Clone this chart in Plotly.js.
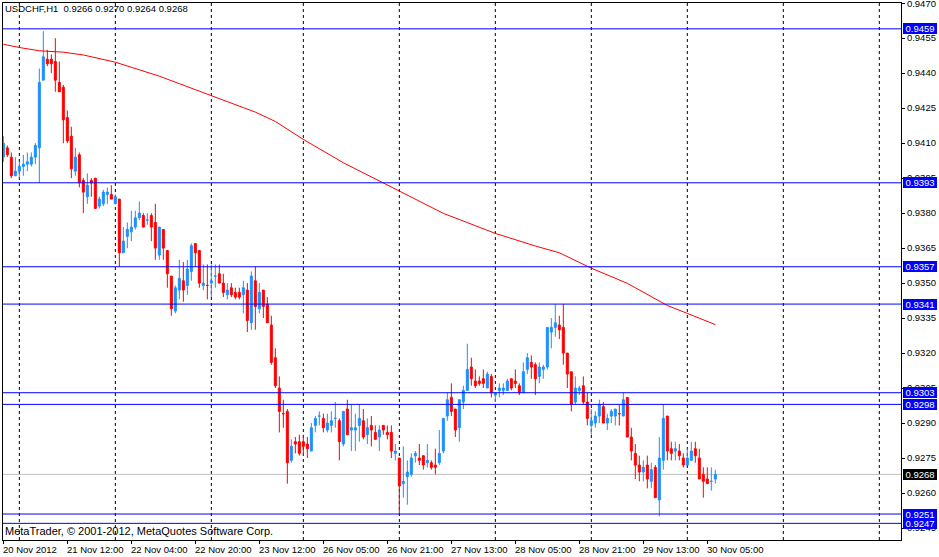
<!DOCTYPE html>
<html><head><meta charset="utf-8">
<script src="https://cdn.plot.ly/plotly-3.0.1.min.js"></script>
<style>html,body{margin:0;padding:0;background:#fff;} #chart{width:939px;height:557px;}</style>
</head><body><div id="chart"></div>
<script>
const symbol = 'USDCHF';
const period = 'H1';
// trading sessions: day, first hour, last hour (one bar per hour)
const sessions = [['20 Nov',20,23],['21 Nov',0,23],['22 Nov',0,23],['23 Nov',0,22],['26 Nov',0,23],['27 Nov',0,23],['28 Nov',0,23],['29 Nov',0,23],['30 Nov',0,7]];

const openP = [0.9404,0.9408,0.9404,0.9396,0.9398,0.9400,0.9401,0.9401,0.9404,0.9408,
0.9437,0.9446,0.9446,0.9445,0.9436,0.9434,0.9421,0.9413,0.9398,0.9405,
0.9394,0.9387,0.9394,0.9395,0.9383,0.9384,0.9388,0.9388,0.9384,0.9386,
0.9363,0.9370,0.9372,0.9374,0.9378,0.9379,0.9377,0.9379,0.9376,0.9362,
0.9373,0.9364,0.9353,0.9338,0.9347,0.9351,0.9349,0.9355,0.9367,0.9364,
0.9349,0.9349,0.9350,0.9353,0.9354,0.9350,0.9345,0.9348,0.9346,0.9346,
0.9345,0.9347,0.9333,0.9351,0.9339,0.9347,0.9341,0.9332,0.9318,0.9305,
0.9294,0.9295,0.9274,0.9282,0.9282,0.9282,0.9281,0.9278,0.9289,0.9293,
0.9292,0.9287,0.9289,0.9292,0.9291,0.9281,0.9296,0.9287,0.9287,0.9289,
0.9291,0.9285,0.9289,0.9286,0.9284,0.9289,0.9286,0.9286,0.9277,0.9275,
0.9264,0.9267,0.9268,0.9276,0.9275,0.9276,0.9273,0.9273,0.9272,0.9273,
0.9278,0.9293,0.9301,0.9296,0.9288,0.9299,0.9304,0.9314,0.9308,0.9308,
0.9309,0.9305,0.9310,0.9302,0.9304,0.9304,0.9304,0.9309,0.9308,0.9306,
0.9303,0.9313,0.9316,0.9315,0.9310,0.9313,0.9314,0.9329,0.9331,0.9332,
0.9331,0.9320,0.9312,0.9299,0.9304,0.9306,0.9299,0.9289,0.9290,0.9293,
0.9297,0.9290,0.9293,0.9293,0.9294,0.9293,0.9301,0.9284,0.9277,0.9272,
0.9269,0.9272,0.9265,0.9271,0.9257,0.9274,0.9293,0.9279,0.9278,0.9278,
0.9275,0.9272,0.9274,0.9279,0.9275,0.9268,0.9266,0.9265,0.9266];

const highP = [0.9413,0.9409,0.9406,0.9404,0.9402,0.9405,0.9406,0.9406,0.9410,0.9442,
0.9458,0.9450,0.9448,0.9455,0.9445,0.9435,0.9424,0.9417,0.9408,0.9406,
0.9395,0.9397,0.9395,0.9395,0.9387,0.9390,0.9391,0.9392,0.9388,0.9386,
0.9374,0.9376,0.9381,0.9381,0.9385,0.9380,0.9380,0.9380,0.9384,0.9374,
0.9373,0.9364,0.9353,0.9349,0.9360,0.9359,0.9360,0.9367,0.9367,0.9364,
0.9358,0.9358,0.9358,0.9358,0.9358,0.9354,0.9350,0.9350,0.9348,0.9348,
0.9351,0.9350,0.9355,0.9357,0.9350,0.9347,0.9344,0.9336,0.9322,0.9310,
0.9300,0.9296,0.9283,0.9284,0.9285,0.9285,0.9284,0.9290,0.9293,0.9295,
0.9294,0.9294,0.9295,0.9299,0.9292,0.9295,0.9300,0.9298,0.9294,0.9298,
0.9296,0.9292,0.9293,0.9289,0.9289,0.9289,0.9289,0.9289,0.9281,0.9275,
0.9280,0.9274,0.9277,0.9278,0.9281,0.9276,0.9281,0.9274,0.9279,0.9287,
0.9292,0.9303,0.9307,0.9296,0.9300,0.9306,0.9324,0.9318,0.9313,0.9310,
0.9313,0.9312,0.9311,0.9303,0.9307,0.9307,0.9309,0.9309,0.9313,0.9307,
0.9316,0.9320,0.9319,0.9316,0.9316,0.9315,0.9331,0.9335,0.9341,0.9336,
0.9341,0.9320,0.9312,0.9310,0.9306,0.9310,0.9303,0.9296,0.9295,0.9300,
0.9299,0.9294,0.9296,0.9296,0.9298,0.9303,0.9301,0.9288,0.9281,0.9276,
0.9274,0.9276,0.9273,0.9272,0.9284,0.9298,0.9293,0.9282,0.9282,0.9281,
0.9277,0.9279,0.9282,0.9282,0.9279,0.9271,0.9271,0.9271,0.9270];

const lowP = [0.9402,0.9404,0.9395,0.9396,0.9395,0.9396,0.9398,0.9400,0.9401,0.9393,
0.9437,0.9443,0.9440,0.9432,0.9432,0.9410,0.9410,0.9395,0.9396,0.9391,
0.9380,0.9384,0.9387,0.9382,0.9382,0.9383,0.9384,0.9386,0.9384,0.9357,
0.9363,0.9365,0.9368,0.9373,0.9377,0.9374,0.9375,0.9368,0.9360,0.9360,
0.9360,0.9348,0.9336,0.9337,0.9343,0.9342,0.9345,0.9351,0.9357,0.9348,
0.9347,0.9343,0.9344,0.9348,0.9350,0.9344,0.9343,0.9344,0.9343,0.9343,
0.9337,0.9329,0.9330,0.9330,0.9337,0.9335,0.9333,0.9315,0.9305,0.9286,
0.9288,0.9264,0.9273,0.9277,0.9276,0.9276,0.9275,0.9278,0.9286,0.9289,
0.9286,0.9286,0.9286,0.9288,0.9274,0.9280,0.9285,0.9278,0.9278,0.9282,
0.9283,0.9281,0.9280,0.9283,0.9278,0.9285,0.9283,0.9275,0.9274,0.9251,
0.9258,0.9255,0.9267,0.9273,0.9272,0.9270,0.9271,0.9270,0.9268,0.9272,
0.9277,0.9291,0.9293,0.9284,0.9282,0.9296,0.9304,0.9306,0.9305,0.9306,
0.9305,0.9305,0.9301,0.9299,0.9301,0.9302,0.9304,0.9304,0.9305,0.9302,
0.9303,0.9311,0.9309,0.9302,0.9307,0.9309,0.9313,0.9322,0.9327,0.9326,
0.9315,0.9305,0.9295,0.9298,0.9302,0.9298,0.9289,0.9285,0.9288,0.9290,
0.9290,0.9287,0.9290,0.9289,0.9289,0.9293,0.9284,0.9274,0.9266,0.9265,
0.9265,0.9262,0.9262,0.9258,0.9250,0.9270,0.9274,0.9274,0.9274,0.9274,
0.9271,0.9272,0.9274,0.9273,0.9266,0.9258,0.9264,0.9261,0.9264];

const closeP = [0.9410,0.9405,0.9396,0.9398,0.9400,0.9401,0.9402,0.9404,0.9409,0.9436,
0.9447,0.9444,0.9444,0.9437,0.9432,0.9420,0.9411,0.9399,0.9404,0.9393,
0.9389,0.9392,0.9393,0.9382,0.9386,0.9389,0.9389,0.9386,0.9387,0.9363,
0.9368,0.9373,0.9374,0.9378,0.9380,0.9374,0.9377,0.9374,0.9365,0.9374,
0.9365,0.9354,0.9339,0.9348,0.9352,0.9347,0.9356,0.9366,0.9363,0.9350,
0.9350,0.9349,0.9351,0.9353,0.9350,0.9346,0.9347,0.9345,0.9344,0.9344,
0.9348,0.9334,0.9353,0.9340,0.9346,0.9340,0.9333,0.9316,0.9306,0.9295,
0.9294,0.9273,0.9280,0.9281,0.9277,0.9280,0.9279,0.9288,0.9292,0.9293,
0.9288,0.9290,0.9291,0.9292,0.9282,0.9295,0.9285,0.9288,0.9288,0.9292,
0.9284,0.9288,0.9287,0.9283,0.9287,0.9287,0.9285,0.9278,0.9278,0.9263,
0.9265,0.9269,0.9275,0.9277,0.9274,0.9272,0.9274,0.9271,0.9271,0.9277,
0.9292,0.9300,0.9295,0.9287,0.9300,0.9304,0.9313,0.9309,0.9306,0.9307,
0.9307,0.9311,0.9303,0.9303,0.9305,0.9305,0.9308,0.9305,0.9307,0.9303,
0.9312,0.9318,0.9314,0.9309,0.9314,0.9314,0.9331,0.9331,0.9333,0.9330,
0.9320,0.9311,0.9298,0.9305,0.9305,0.9299,0.9292,0.9291,0.9293,0.9298,
0.9290,0.9292,0.9295,0.9296,0.9294,0.9300,0.9284,0.9278,0.9272,0.9269,
0.9271,0.9266,0.9270,0.9258,0.9275,0.9292,0.9278,0.9277,0.9279,0.9276,
0.9272,0.9275,0.9278,0.9276,0.9266,0.9265,0.9264,0.9265,0.9268];

// moving average read at selected bars
const maTimes = ['20 Nov 20:00','21 Nov 00:00','21 Nov 05:00','21 Nov 11:00','21 Nov 16:00','21 Nov 20:00',
'22 Nov 00:00','22 Nov 11:00','23 Nov 00:00','23 Nov 11:00','23 Nov 16:00','26 Nov 00:00','26 Nov 10:00',
'26 Nov 20:00','27 Nov 00:00','27 Nov 11:00','28 Nov 00:00','28 Nov 10:00','28 Nov 16:00','29 Nov 00:00',
'29 Nov 09:00','29 Nov 19:00','30 Nov 00:00','30 Nov 07:00'];
const maValues = [0.94524,0.94510,0.94496,0.94490,0.94478,0.94461,0.94447,0.94387,0.94304,0.94233,0.94193,
0.94116,0.94016,0.93930,0.93896,0.93799,0.93713,0.93659,0.93630,0.93564,0.93499,0.93404,0.93370,0.93322];

const levelPrices = [0.9459,0.9393,0.9357,0.9341,0.9303,0.9298,0.9251,0.9247];
const bidPrice = 0.9268;
const priceTicks = [0.9470,0.9455,0.9440,0.9425,0.9410,0.9395,0.9380,0.9365,0.9350,0.9335,0.9320,0.9305,0.9290,0.9275,0.9260,0.9245];
const timeTickAt = ['20 Nov 20:00','21 Nov 12:00','22 Nov 04:00','22 Nov 20:00','23 Nov 12:00','26 Nov 05:00',
'26 Nov 21:00','27 Nov 13:00','28 Nov 05:00','28 Nov 21:00','29 Nov 13:00','30 Nov 05:00'];
const timeTickText = ['20 Nov 2012','21 Nov 12:00','22 Nov 04:00','22 Nov 20:00','23 Nov 12:00','26 Nov 05:00',
'26 Nov 21:00','27 Nov 13:00','28 Nov 05:00','28 Nov 21:00','29 Nov 13:00','30 Nov 05:00'];
const copyrightText = 'MetaTrader, \u00A9 2001-2012, MetaQuotes Software Corp.';

// ---- build ----
const times = [];
sessions.forEach(([day,h0,h1]) => { for (let h=h0; h<=h1; h++) times.push(day+' '+String(h).padStart(2,'0')+':00'); });
const pos = t => times.indexOf(t);
const xIdx = times.map((t,i)=>i);
const last = times.length-1;

const xRange = [-0.083, 224.42];
const yRange = [0.923986, 0.947008];
const FONT = 'Liberation Sans, Arial, sans-serif';

const traces = [
  {type:'candlestick', x:xIdx, open:openP, high:highP, low:lowP, close:closeP,
   increasing:{line:{color:'#1E90FF', width:1}, fillcolor:'#1E90FF'},
   decreasing:{line:{color:'#FF0000', width:1}, fillcolor:'#FF0000'},
   whiskerwidth:0, hoverinfo:'skip', showlegend:false},
  {type:'scatter', mode:'lines', x:maTimes.map(pos), y:maValues,
   line:{color:'#FF0000', width:1}, hoverinfo:'skip', showlegend:false}
];

const shapes = [];
const dayStarts = times.map((t,i)=>t.endsWith(' 00:00')?i:-1).filter(i=>i>=0);
let g = dayStarts[dayStarts.length-1] + 24;
while (g < xRange[1]) { dayStarts.push(g); g += 24; }
dayStarts.forEach(i => shapes.push({type:'line', xref:'x', yref:'paper', x0:i, x1:i, y0:0, y1:1,
  line:{color:'#000', width:1, dash:'3px,3px'}, layer:'below'}));
shapes.push({type:'line', xref:'paper', yref:'y', x0:0, x1:1, y0:bidPrice, y1:bidPrice,
  line:{color:'#C0C0C0', width:1}, layer:'below'});
levelPrices.forEach(p => shapes.push({type:'line', xref:'paper', yref:'y', x0:0, x1:1, y0:p, y1:p,
  line:{color:'#0000FF', width:1}, layer:'above'}));

const annotations = [];
levelPrices.forEach(p => annotations.push({xref:'paper', x:1, xanchor:'left', xshift:2, yref:'y', y:p, yanchor:'middle',
  text:p.toFixed(4), showarrow:false, bgcolor:'#0000FF', borderpad:0, borderwidth:0, width:34, height:11,
  font:{family:FONT, size:9.5, color:'#FFFFFF'}}));
annotations.push({xref:'paper', x:1, xanchor:'left', xshift:2, yref:'y', y:bidPrice, yanchor:'middle',
  text:bidPrice.toFixed(4), showarrow:false, bgcolor:'#000000', borderpad:0, borderwidth:0, width:34, height:11,
  font:{family:FONT, size:9.5, color:'#FFFFFF'}});
timeTickAt.forEach((t,k) => annotations.push({xref:'x', x:pos(t), xanchor:'left', xshift:-2, yref:'paper', y:0,
  yanchor:'middle', yshift:-9, text:timeTickText[k], showarrow:false, font:{family:FONT, size:9.5, color:'#000'}}));
const hdr = symbol+','+period+'\u00A0\u00A0'+[openP[last],highP[last],lowP[last],closeP[last]].map(v=>v.toFixed(4)).join(' ');
annotations.push({xref:'paper', x:0, xanchor:'left', xshift:0, yref:'paper', y:1, yanchor:'middle', yshift:-5,
  text:hdr, showarrow:false, font:{family:FONT, size:9.5, color:'#000'}});
annotations.push({xref:'paper', x:0, xanchor:'left', xshift:0, yref:'paper', y:0, yanchor:'middle', yshift:9,
  text:copyrightText, showarrow:false, font:{family:FONT, size:11, color:'#000'}});

const layout = {
  width:939, height:557,
  margin:{l:3, r:38, t:3, b:17, pad:0},
  paper_bgcolor:'#FFFFFF', plot_bgcolor:'#FFFFFF',
  font:{family:FONT, size:9.5, color:'#000'},
  showlegend:false, boxgap:0.5, boxgroupgap:0,
  xaxis:{type:'linear', range:xRange, showgrid:false, zeroline:false, showline:true, linecolor:'#000', linewidth:1,
    mirror:true, ticks:'outside', ticklen:3, tickcolor:'#000', tickmode:'array', tickvals:timeTickAt.map(pos),
    showticklabels:false, rangeslider:{visible:false}, fixedrange:true},
  yaxis:{side:'right', range:yRange, showgrid:false, zeroline:false, showline:true, linecolor:'#000', linewidth:1,
    mirror:true, ticks:'outside', ticklen:3, tickcolor:'#000', tickmode:'array', tickvals:priceTicks,
    ticktext:priceTicks.map(v=>v.toFixed(4)), tickfont:{family:FONT, size:9.5, color:'#000'},
    ticklabeloverflow:'allow', fixedrange:true},
  shapes:shapes, annotations:annotations
};
Plotly.newPlot('chart', traces, layout, {staticPlot:true, displayModeBar:false});
</script></body></html>
